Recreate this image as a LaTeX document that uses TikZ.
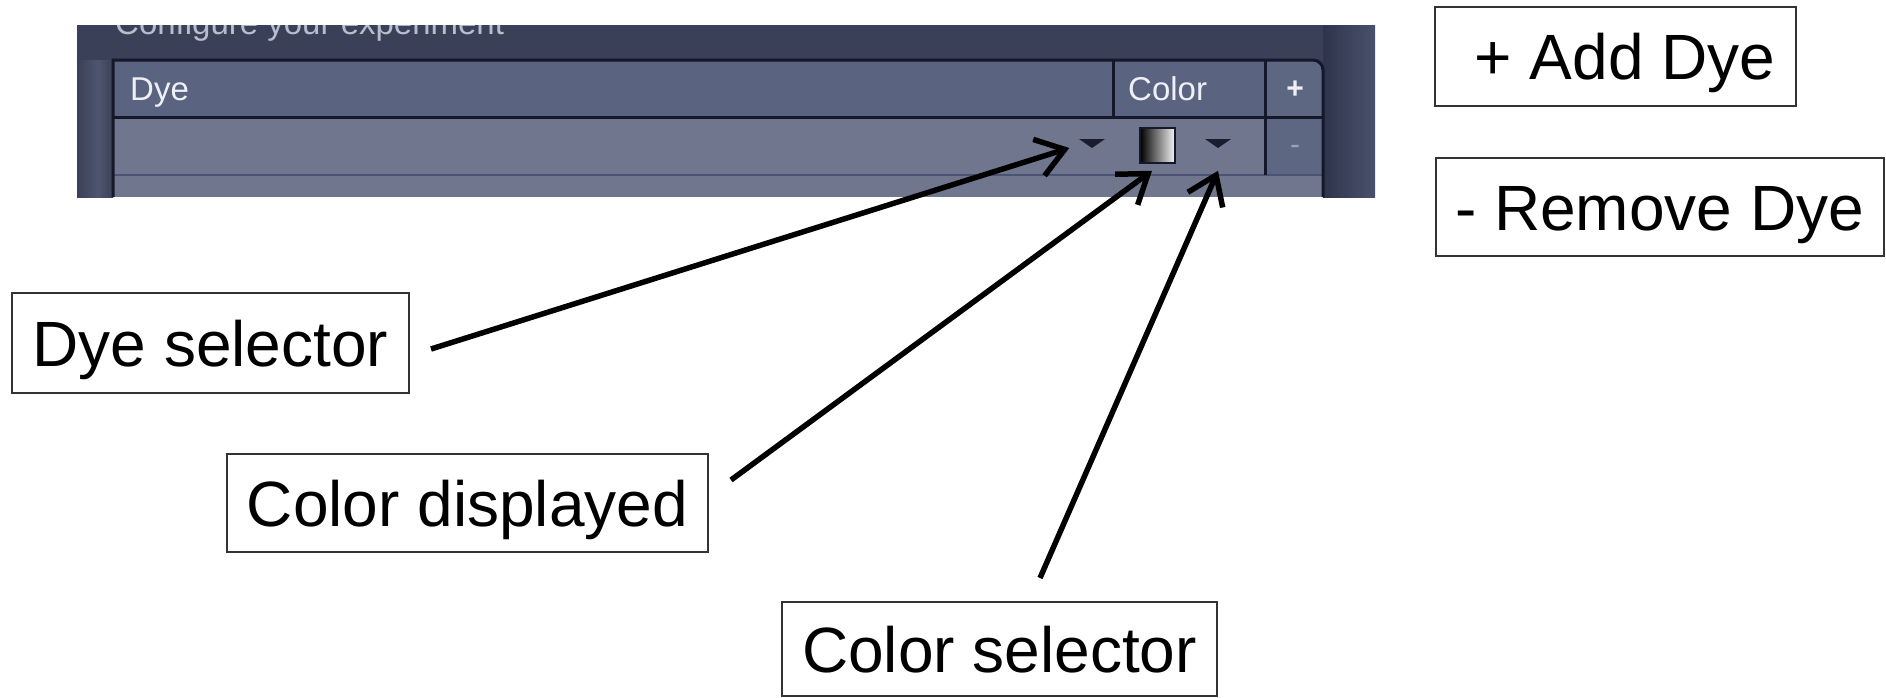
\documentclass[tikz,border=0pt]{standalone}
\usepackage{fontspec}
\setmainfont{Liberation Sans}
\usetikzlibrary{arrows.meta,calc}
\definecolor{scrbg}{HTML}{3A4058}
\definecolor{scrdark}{HTML}{2E344C}
\definecolor{scrlight}{HTML}{4A526B}
\definecolor{stripl}{HTML}{4E556E}
\definecolor{hdr}{HTML}{5A6380}
\definecolor{rowc}{HTML}{71768F}
\definecolor{pmcol}{HTML}{5E6782}
\definecolor{tblline}{HTML}{15182A}
\definecolor{rowline}{HTML}{4C5274}
\definecolor{scrtext}{HTML}{EEF0F6}
\definecolor{cfgtext}{HTML}{B8BDCB}
\definecolor{minusgray}{HTML}{9CA2B4}
\definecolor{tri}{HTML}{1A1D30}
\definecolor{boxgray}{HTML}{333333}
\tikzset{
  lblbox/.style={draw=boxgray, line width=2pt, fill=white, inner sep=0pt,
    text height=46pt, text depth=0pt, font=\fontsize{64}{70}\selectfont},
  scr/.style={text=scrtext, inner sep=0pt, font=\fontsize{33}{36}\selectfont},
  arr/.style={draw=black, line width=5.5pt, -{Straight Barb[length=27pt,width=38pt]}},
  tbl/.style={draw=tblline, line width=3pt}
}
\begin{document}
\begin{tikzpicture}[x={(1pt,0)},y={(0,-1pt)}]
\useasboundingbox (0,0) rectangle (1886,697);
% ---- screenshot ----
\fill[scrbg] (77,25) rectangle (1375,197);
\shade[left color=scrbg, right color=stripl] (77,60) rectangle (98,197);
\shade[left color=stripl, right color=scrbg] (98,60) rectangle (113,197);
\shade[left color=scrdark, right color=scrlight] (1323,25) rectangle (1375,197);
\begin{scope}
  \clip (77,25) rectangle (1375,197);
  \node[scr, text=cfgtext, anchor=base west] (cfg) at (115,34) {Configure your experiment};
\end{scope}
% plus / minus column with rounded top-right corner
\fill[pmcol] (1265,60) -- (1313,60) .. controls (1318.5,60) and (1323,64.5) .. (1323,70) -- (1323,175) -- (1265,175) -- cycle;
% header and rows
\fill[hdr] (113,60) rectangle (1265,117);
\fill[rowc] (113,117) rectangle (1265,175);
\fill[rowc] (113,175) rectangle (1323,197);
\draw[rowline, line width=2pt] (113,175) -- (1323,175);
% table lines
\draw[tbl] (113,197) -- (113,60) -- (1313,60) .. controls (1318.5,60) and (1323,64.5) .. (1323,70) -- (1323,197);
\draw[tbl] (113,117) -- (1323,117);
\draw[tbl] (1113,60) -- (1113,117);
\draw[tbl] (1265,60) -- (1265,175);
% header texts
\node[scr, anchor=base west] (hdye) at (130,100) {Dye};
\node[scr, anchor=base west] (hcolor) at (1128,100) {Color};
\node[scr, font=\fontsize{30}{32}\selectfont\bfseries] (plus) at (1295,90) {+};
\node[scr, text=minusgray, font=\fontsize{30}{32}\selectfont] (minus) at (1295,150) {-};
% dropdown triangles and colour swatch
\fill[tri] (1079,139) -- (1105,139) -- (1092,148) -- cycle;
\fill[tri] (1205,139) -- (1231,139) -- (1218,148) -- cycle;
\node[draw=tblline, line width=1.5pt, minimum width=35pt, minimum height=35pt, inner sep=0pt,
  left color=black, right color=white!92!gray] (swatch) at (1157.5,145.5) {};
% ---- labels ----
\node[lblbox, minimum width=397pt, minimum height=100pt] (dyesel) at (210.5,343) {Dye selector};
\node[lblbox, minimum width=481pt, minimum height=98pt] (coldisp) at (467.5,503) {Color displayed};
\node[lblbox, minimum width=435pt, minimum height=94pt] (colsel) at (999.5,649) {Color selector};
\node[lblbox, minimum width=361pt, minimum height=99pt] (adddye) at (1615.5,56.5) {\hspace*{19pt}+ Add Dye};
\node[lblbox, minimum width=448pt, minimum height=98pt] (remdye) at (1659.5,207) {- Remove Dye};
% ---- connectors ----
\coordinate (s1) at ($(dyesel.east)+(21,6)$);
\coordinate (t1) at ($(swatch.west)+(-70,2.5)$);
\coordinate (s2) at ($(coldisp.east)+(22,-23)$);
\coordinate (t2) at ($(swatch.south)+(-5.5,7)$);
\coordinate (s3) at ($(colsel.north)+(40.5,-23)$);
\coordinate (t3) at ($(swatch.south)+(60.5,7)$);
\draw[arr] (s1) -- (t1);
\draw[arr] (s2) -- (t2);
\draw[arr] (s3) -- (t3);
\end{tikzpicture}
\end{document}
